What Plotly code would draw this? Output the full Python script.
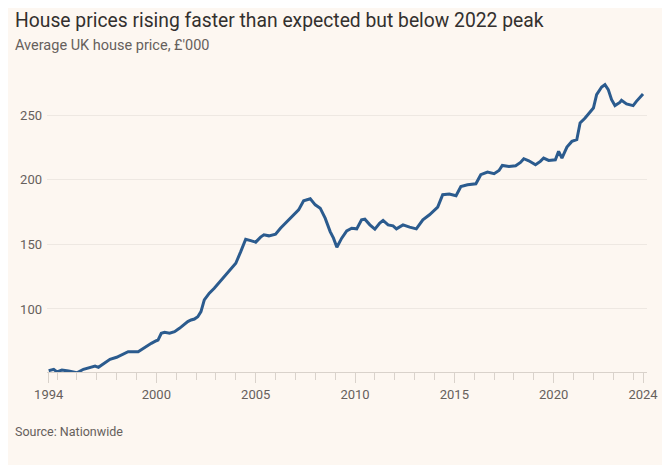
import plotly.graph_objects as go

dates = [
    "1994-08", "1994-11", "1995-01", "1995-04", "1995-08", "1995-12", "1996-01", "1996-05",
    "1996-09", "1996-12", "1997-02", "1997-06", "1997-09", "1998-01", "1998-04", "1998-08",
    "1999-02", "1999-06", "1999-10", "2000-01", "2000-02", "2000-04", "2000-06", "2000-09",
    "2000-12", "2001-03", "2001-06", "2001-08", "2001-10", "2001-12", "2002-02", "2002-04",
    "2002-06", "2002-09", "2002-12", "2003-03", "2003-04", "2003-10", "2004-01", "2004-04",
    "2004-07", "2004-10", "2005-01", "2005-04", "2005-06", "2005-09", "2006-01", "2006-04",
    "2006-08", "2006-12", "2007-03", "2007-06", "2007-10", "2008-01", "2008-04", "2008-07",
    "2008-10", "2008-12", "2009-02", "2009-05", "2009-08", "2009-11", "2010-02", "2010-05",
    "2010-07", "2010-10", "2011-01", "2011-04", "2011-06", "2011-09", "2011-12", "2012-02",
    "2012-06", "2012-10", "2013-02", "2013-06", "2013-10", "2014-03", "2014-06", "2014-10",
    "2015-02", "2015-05", "2015-09", "2016-02", "2016-05", "2016-09", "2017-01", "2017-04",
    "2017-06", "2017-10", "2018-02", "2018-05", "2018-07", "2018-10", "2019-02", "2019-05",
    "2019-07", "2019-10", "2020-02", "2020-04", "2020-06", "2020-09", "2020-12", "2021-03",
    "2021-05", "2021-08", "2021-11", "2022-01", "2022-03", "2022-06", "2022-08", "2022-10",
    "2022-12", "2023-02", "2023-05", "2023-06", "2023-09", "2023-11", "2024-01", "2024-03",
    "2024-05", "2024-07",
]
prices = [
    52.2, 53.3, 51.2, 52.7, 51.9, 51.0, 50.6, 53.3,
    54.5, 55.8, 54.8, 58.4, 61.0, 62.6, 64.3, 66.9,
    66.9, 70.3, 73.4, 75.4, 75.9, 81.2, 81.9, 81.2,
    82.4, 85.0, 88.1, 90.2, 91.5, 92.2, 94.0, 97.9,
    107.0, 112.2, 116.0, 120.4, 122.5, 131.5, 135.4, 144.4,
    154.0, 152.9, 151.7, 155.6, 157.4, 156.6, 157.9, 162.5,
    167.7, 172.9, 176.7, 183.7, 185.3, 180.6, 178.0, 170.3,
    159.9, 154.8, 147.8, 154.8, 160.5, 162.5, 162.0, 169.0,
    169.5, 165.1, 161.8, 166.4, 168.5, 165.1, 164.3, 162.0,
    165.1, 163.3, 162.0, 169.0, 172.9, 178.8, 188.4, 188.9,
    187.6, 194.8, 196.1, 196.9, 203.9, 206.0, 204.7, 207.2,
    211.1, 210.3, 210.9, 213.4, 216.3, 214.7, 211.6, 214.2,
    216.8, 215.0, 215.5, 222.0, 216.8, 225.3, 229.7, 231.0,
    243.9, 247.8, 252.9, 255.5, 265.9, 271.8, 273.6, 269.8,
    262.0, 257.4, 259.9, 261.5, 258.7, 258.1, 257.4, 260.7,
    263.3, 266.4,
]

x_tick_vals = ["1994-08-01", "2000-01-01", "2005-01-01", "2010-01-01",
               "2015-01-01", "2020-01-01", "2024-07-01"]
x_tick_text = ["1994", "2000", "2005", "2010", "2015", "2020", "2024"]
minor_tick_vals = [f"{y}-01-01" for y in range(1995, 2025)]
y_tick_vals = [100, 150, 200, 250]

BG = "#FDF7F1"
TXT = "#66605C"
FONT = "Roboto"

# the page body adds an 8px offset; figure is sized to fill the rest
W, H = 662, 457
L, R, T, B = 37, 21, 71, 93

fig = go.Figure()
fig.add_trace(go.Scatter(
    x=dates, y=prices, mode="lines",
    line=dict(color="#2B5B8E", width=3),
    hoverinfo="skip", showlegend=False,
))

def ann(text, px_x, px_y, size, color, anchor="middle"):
    # px positions are in figure pixels (from top-left)
    return dict(text=text,
                x=(px_x - L) / (W - L - R), y=(H - B - px_y) / (H - T - B),
                xref="paper", yref="paper", showarrow=False,
                xanchor="left", yanchor=anchor, borderpad=0,
                font=dict(size=size, color=color, family=FONT))

fig.update_layout(
    width=W, height=H,
    paper_bgcolor=BG, plot_bgcolor=BG,
    margin=dict(l=L, r=R, t=T, b=B),
    font=dict(family=FONT, color=TXT, size=13),
    xaxis=dict(
        type="date",
        range=["1994-07-01", "2024-09-12"],
        tickmode="array", tickvals=x_tick_vals, ticktext=x_tick_text,
        ticks="outside", ticklen=10, tickcolor="#D9D2CB", tickwidth=1,
        showgrid=False, zeroline=False,
        showline=True, linecolor="#D9D2CB", linewidth=1,
        tickfont=dict(size=13, color=TXT, family=FONT),
        minor=dict(tickmode="array", tickvals=minor_tick_vals, ticks="outside",
                   ticklen=7, tickcolor="#D9D2CB", showgrid=False),
    ),
    yaxis=dict(
        range=[51.2, 278],
        tickmode="array", tickvals=y_tick_vals,
        showgrid=True, gridcolor="#EEE8E2", gridwidth=1,
        zeroline=False, showline=False, ticks="",
        ticklabelstandoff=4,
        tickfont=dict(size=13, color=TXT, family=FONT),
    ),
    annotations=[
        ann("House prices rising faster than expected but below 2022 peak", 4, 0, 19.3, "#33302E", "top"),
        ann("Average UK house price, £'000", 4, 37, 14.5, TXT),
        ann("Source: Nationwide", 4, 423, 12.5, TXT),
    ],
)

fig.write_html("out.html")
